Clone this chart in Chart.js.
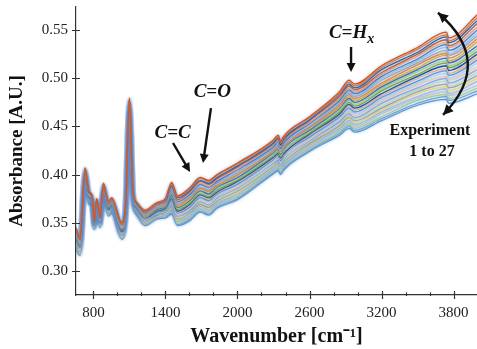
<!DOCTYPE html>
<html>
<head>
<meta charset="utf-8">
<script src="https://cdn.jsdelivr.net/npm/chart.js@4.4.1/dist/chart.umd.min.js"></script>
<style>
  html, body { margin: 0; padding: 0; background: #fff; }
  canvas { display: block; }
</style>
</head>
<body>
<canvas id="ftirChart" width="477" height="349"></canvas>
<script>
var wavenumbers = [656, 690, 731, 760, 790, 808, 828, 856, 883, 925, 953, 1036, 1070, 1100, 1128, 1161, 1230, 1330, 1400, 1452, 1500, 1600, 1690, 1760, 1830, 2000, 2300, 2340, 2360, 2380, 2600, 2850, 2930, 2975, 3200, 3500, 3740, 3760, 4000];

// absorbance of each experiment, experiment 1 on top at 4000 cm-1
var exp01 = [0.345,0.334,0.407,0.383,0.378,0.352,0.375,0.356,0.391,0.372,0.376,0.350,0.372,0.480,0.384,0.371,0.363,0.371,0.375,0.392,0.378,0.386,0.397,0.394,0.400,0.412,0.436,0.441,0.434,0.439,0.460,0.486,0.498,0.494,0.513,0.532,0.548,0.542,0.566];
var exp02 = [0.344,0.333,0.407,0.383,0.378,0.352,0.375,0.356,0.390,0.371,0.375,0.349,0.371,0.479,0.383,0.371,0.362,0.370,0.374,0.391,0.377,0.385,0.396,0.393,0.399,0.411,0.435,0.440,0.433,0.438,0.459,0.484,0.496,0.492,0.511,0.530,0.545,0.539,0.563];
var exp03 = [0.343,0.333,0.406,0.382,0.377,0.351,0.374,0.355,0.390,0.371,0.375,0.349,0.371,0.479,0.383,0.370,0.362,0.370,0.373,0.389,0.376,0.383,0.394,0.391,0.397,0.409,0.433,0.438,0.431,0.436,0.457,0.483,0.494,0.490,0.509,0.527,0.543,0.537,0.560];
var exp04 = [0.342,0.332,0.406,0.382,0.377,0.351,0.374,0.355,0.389,0.370,0.374,0.348,0.370,0.478,0.382,0.370,0.361,0.369,0.373,0.388,0.374,0.382,0.393,0.390,0.396,0.408,0.432,0.437,0.430,0.435,0.456,0.481,0.492,0.488,0.506,0.525,0.540,0.534,0.557];
var exp05 = [0.341,0.331,0.405,0.381,0.376,0.351,0.373,0.354,0.389,0.370,0.374,0.347,0.370,0.478,0.382,0.369,0.361,0.368,0.372,0.387,0.373,0.381,0.391,0.388,0.395,0.406,0.431,0.435,0.429,0.434,0.454,0.479,0.490,0.486,0.504,0.523,0.537,0.532,0.553];
var exp06 = [0.341,0.331,0.405,0.381,0.376,0.350,0.373,0.354,0.388,0.369,0.373,0.347,0.369,0.477,0.381,0.369,0.360,0.368,0.371,0.386,0.372,0.379,0.390,0.387,0.393,0.405,0.429,0.434,0.427,0.432,0.453,0.477,0.488,0.484,0.502,0.520,0.535,0.529,0.550];
var exp07 = [0.340,0.330,0.404,0.380,0.375,0.350,0.372,0.353,0.388,0.369,0.372,0.346,0.369,0.476,0.381,0.368,0.359,0.367,0.370,0.384,0.371,0.378,0.389,0.386,0.392,0.403,0.428,0.432,0.426,0.431,0.452,0.476,0.486,0.482,0.500,0.518,0.532,0.526,0.547];
var exp08 = [0.339,0.329,0.404,0.380,0.375,0.350,0.372,0.353,0.387,0.368,0.372,0.345,0.368,0.476,0.380,0.368,0.359,0.366,0.370,0.383,0.370,0.377,0.387,0.384,0.391,0.402,0.427,0.431,0.425,0.430,0.450,0.474,0.485,0.481,0.498,0.516,0.529,0.524,0.544];
var exp09 = [0.338,0.328,0.404,0.379,0.374,0.349,0.372,0.353,0.387,0.367,0.371,0.345,0.367,0.475,0.380,0.367,0.358,0.366,0.369,0.382,0.368,0.376,0.386,0.383,0.389,0.400,0.425,0.430,0.424,0.428,0.449,0.472,0.483,0.479,0.495,0.514,0.526,0.521,0.541];
var exp10 = [0.337,0.328,0.403,0.379,0.374,0.349,0.371,0.352,0.386,0.367,0.370,0.344,0.367,0.474,0.379,0.367,0.357,0.365,0.368,0.381,0.367,0.374,0.385,0.382,0.388,0.399,0.424,0.428,0.422,0.427,0.448,0.470,0.481,0.477,0.493,0.511,0.524,0.518,0.538];
var exp11 = [0.336,0.327,0.403,0.378,0.373,0.349,0.371,0.352,0.386,0.366,0.370,0.343,0.366,0.474,0.379,0.366,0.357,0.364,0.367,0.379,0.366,0.373,0.383,0.380,0.387,0.397,0.423,0.427,0.421,0.426,0.446,0.469,0.479,0.475,0.491,0.509,0.521,0.516,0.534];
var exp12 = [0.335,0.326,0.402,0.378,0.373,0.348,0.370,0.351,0.385,0.366,0.369,0.343,0.366,0.473,0.378,0.366,0.356,0.364,0.367,0.378,0.365,0.372,0.382,0.379,0.385,0.396,0.421,0.425,0.420,0.424,0.445,0.467,0.477,0.473,0.489,0.507,0.518,0.513,0.531];
var exp13 = [0.334,0.326,0.402,0.377,0.372,0.348,0.370,0.351,0.385,0.365,0.369,0.342,0.365,0.473,0.378,0.365,0.356,0.363,0.366,0.377,0.364,0.370,0.380,0.377,0.384,0.394,0.420,0.424,0.418,0.423,0.443,0.465,0.475,0.471,0.487,0.504,0.516,0.511,0.528];
var exp14 = [0.333,0.325,0.401,0.377,0.372,0.347,0.369,0.350,0.384,0.364,0.368,0.341,0.364,0.472,0.377,0.365,0.355,0.362,0.365,0.375,0.362,0.369,0.379,0.376,0.382,0.393,0.418,0.422,0.417,0.421,0.442,0.463,0.473,0.469,0.484,0.502,0.513,0.508,0.525];
var exp15 = [0.333,0.324,0.401,0.376,0.372,0.347,0.369,0.350,0.383,0.364,0.367,0.341,0.364,0.471,0.376,0.364,0.354,0.362,0.364,0.374,0.361,0.368,0.378,0.375,0.381,0.392,0.417,0.421,0.416,0.420,0.441,0.462,0.471,0.467,0.482,0.500,0.510,0.505,0.522];
var exp16 = [0.332,0.324,0.401,0.376,0.371,0.347,0.369,0.350,0.383,0.363,0.367,0.340,0.363,0.471,0.376,0.364,0.354,0.361,0.363,0.373,0.360,0.366,0.376,0.373,0.380,0.390,0.416,0.420,0.414,0.419,0.439,0.460,0.469,0.465,0.480,0.497,0.508,0.503,0.519];
var exp17 = [0.331,0.323,0.400,0.375,0.371,0.346,0.368,0.349,0.382,0.363,0.366,0.340,0.363,0.470,0.375,0.363,0.353,0.361,0.363,0.372,0.359,0.365,0.375,0.372,0.378,0.389,0.414,0.418,0.413,0.417,0.438,0.458,0.467,0.463,0.478,0.495,0.505,0.500,0.516];
var exp18 = [0.330,0.322,0.400,0.375,0.370,0.346,0.368,0.349,0.382,0.362,0.366,0.339,0.362,0.470,0.375,0.363,0.353,0.360,0.362,0.370,0.358,0.364,0.373,0.370,0.377,0.387,0.413,0.417,0.412,0.416,0.436,0.457,0.465,0.461,0.476,0.493,0.502,0.498,0.512];
var exp19 = [0.329,0.322,0.399,0.374,0.370,0.346,0.367,0.348,0.381,0.362,0.365,0.338,0.362,0.469,0.374,0.362,0.352,0.359,0.361,0.369,0.357,0.362,0.372,0.369,0.376,0.386,0.412,0.415,0.410,0.415,0.435,0.455,0.463,0.459,0.474,0.490,0.500,0.495,0.509];
var exp20 = [0.328,0.321,0.399,0.374,0.369,0.345,0.367,0.348,0.381,0.361,0.364,0.338,0.361,0.468,0.374,0.362,0.351,0.359,0.360,0.368,0.355,0.361,0.371,0.368,0.374,0.384,0.410,0.414,0.409,0.413,0.434,0.453,0.461,0.457,0.471,0.488,0.497,0.492,0.506];
var exp21 = [0.327,0.320,0.399,0.373,0.369,0.345,0.367,0.348,0.380,0.360,0.364,0.337,0.360,0.468,0.373,0.361,0.351,0.358,0.360,0.367,0.354,0.360,0.369,0.366,0.373,0.383,0.409,0.413,0.408,0.412,0.432,0.451,0.460,0.456,0.469,0.486,0.494,0.490,0.503];
var exp22 = [0.326,0.319,0.398,0.373,0.368,0.345,0.366,0.347,0.380,0.360,0.363,0.336,0.360,0.467,0.373,0.361,0.350,0.357,0.359,0.365,0.353,0.359,0.368,0.365,0.372,0.381,0.408,0.411,0.407,0.411,0.431,0.450,0.458,0.454,0.467,0.484,0.491,0.487,0.500];
var exp23 = [0.326,0.319,0.398,0.372,0.368,0.344,0.366,0.347,0.379,0.359,0.362,0.336,0.359,0.466,0.372,0.360,0.349,0.357,0.358,0.364,0.352,0.357,0.367,0.364,0.370,0.380,0.406,0.410,0.405,0.409,0.430,0.448,0.456,0.452,0.465,0.481,0.489,0.484,0.497];
var exp24 = [0.325,0.318,0.397,0.372,0.367,0.344,0.365,0.346,0.379,0.359,0.362,0.335,0.359,0.466,0.372,0.360,0.349,0.356,0.357,0.363,0.351,0.356,0.365,0.362,0.369,0.378,0.405,0.408,0.404,0.408,0.428,0.446,0.454,0.450,0.463,0.479,0.486,0.482,0.493];
var exp25 = [0.324,0.317,0.397,0.371,0.367,0.344,0.365,0.346,0.378,0.358,0.361,0.334,0.358,0.465,0.371,0.359,0.348,0.355,0.357,0.362,0.349,0.355,0.364,0.361,0.368,0.377,0.404,0.407,0.403,0.407,0.427,0.444,0.452,0.448,0.460,0.477,0.483,0.479,0.490];
var exp26 = [0.323,0.317,0.396,0.371,0.366,0.343,0.364,0.345,0.378,0.358,0.361,0.334,0.358,0.465,0.371,0.359,0.348,0.355,0.356,0.360,0.348,0.353,0.362,0.359,0.366,0.375,0.402,0.405,0.401,0.405,0.425,0.443,0.450,0.446,0.458,0.474,0.481,0.477,0.487];
var exp27 = [0.322,0.316,0.396,0.370,0.366,0.343,0.364,0.345,0.377,0.357,0.360,0.333,0.357,0.464,0.370,0.358,0.347,0.354,0.355,0.359,0.347,0.352,0.361,0.358,0.365,0.374,0.401,0.404,0.400,0.404,0.424,0.441,0.448,0.444,0.456,0.472,0.478,0.474,0.484];

var experiments = [exp01, exp02, exp03, exp04, exp05, exp06, exp07, exp08, exp09, exp10, exp11, exp12, exp13, exp14,
                   exp15, exp16, exp17, exp18, exp19, exp20, exp21, exp22, exp23, exp24, exp25, exp26, exp27];

var lineColors = ['#D95319', '#E07B39', '#2E5FA8', '#C8602A', '#F2A27A', '#4A7CC4', '#9DC3E6', '#A9A9A9', '#E68A4F',
                  '#EDB120', '#3E6DB5', '#A8D08D', '#77AC30', '#1F4E99', '#F4B183', '#5B9BD5', '#BDD7EE', '#F8CBAD',
                  '#8FAADC', '#C5E0B4', '#A5A5A5', '#FFD966', '#9DC3E6', '#C9C9C9', '#A9D18E', '#6FA8DC', '#5B9BD5'];

var xMajorTicks = [800, 1400, 2000, 2600, 3200, 3800];
var xMinorTicks = [1000, 1200, 1600, 1800, 2200, 2400, 2800, 3000, 3400, 3600];
var yTicks = [0.30, 0.35, 0.40, 0.45, 0.50, 0.55];

var serif = '"Liberation Serif", "Times New Roman", serif';

// annotation anchors, in axis units (wavenumber, absorbance)
var bandLabels = [
  { text: 'C=C', at: [1460, 0.4435], from: [1463, 0.4328], to: [1605, 0.4027] },
  { text: 'C=O', at: [1790, 0.4860], from: [1779, 0.4690], to: [1713, 0.4120] },
  { text: 'C=H', sub: 'x', at: [2950, 0.5470], from: [2946, 0.5325], to: [2946, 0.5065] }
];
var orderArrow = { start: [3670, 0.568], bend: [4145, 0.517], end: [3712, 0.462] };
var orderText = [['Experiment', 3603, 0.445], ['1 to 27', 3620, 0.4235]];

function arrowHead(ctx, x1, y1, x2, y2, len, half) {
  var a = Math.atan2(y2 - y1, x2 - x1);
  var bx = x2 - len * Math.cos(a), by = y2 - len * Math.sin(a);
  ctx.beginPath();
  ctx.moveTo(x2, y2);
  ctx.lineTo(bx + half * Math.sin(a), by - half * Math.cos(a));
  ctx.lineTo(bx - half * Math.sin(a), by + half * Math.cos(a));
  ctx.closePath();
  ctx.fill();
}

// soft bluish halo that the original lines have
var haloPlugin = {
  id: 'halo',
  beforeDatasetDraw: function(chart) {
    chart.ctx.save();
    chart.ctx.shadowColor = 'rgba(90,140,210,0.5)';
    chart.ctx.shadowBlur = 3;
  },
  afterDatasetDraw: function(chart) {
    chart.ctx.restore();
  }
};

// tick marks crossing the axes, plus minor ticks on x
var axisTicksPlugin = {
  id: 'axisTicks',
  afterDraw: function(chart) {
    var ctx = chart.ctx, xs = chart.scales.x, ys = chart.scales.y, area = chart.chartArea;
    ctx.save();
    ctx.strokeStyle = '#333';
    ctx.lineWidth = 1.2;
    ctx.beginPath();
    xMajorTicks.forEach(function(v) {
      var px = Math.round(xs.getPixelForValue(v)) + 0.5;
      ctx.moveTo(px, area.bottom - 4);
      ctx.lineTo(px, area.bottom + 4);
    });
    xMinorTicks.forEach(function(v) {
      var px = Math.round(xs.getPixelForValue(v)) + 0.5;
      ctx.moveTo(px, area.bottom - 2.5);
      ctx.lineTo(px, area.bottom + 1);
    });
    yTicks.forEach(function(v) {
      var py = Math.round(ys.getPixelForValue(v)) + 0.5;
      ctx.moveTo(area.left - 4, py);
      ctx.lineTo(area.left + 4, py);
    });
    ctx.stroke();
    ctx.restore();
  }
};

var annotationPlugin = {
  id: 'bandNotes',
  afterDraw: function(chart) {
    var ctx = chart.ctx, xs = chart.scales.x, ys = chart.scales.y;
    function px(p) { return [xs.getPixelForValue(p[0]), ys.getPixelForValue(p[1])]; }
    ctx.save();
    ctx.fillStyle = '#111';
    ctx.strokeStyle = '#111';
    ctx.lineWidth = 2.4;
    ctx.textBaseline = 'middle';

    bandLabels.forEach(function(b) {
      var c = px(b.at);
      ctx.font = 'italic bold 19px ' + serif;
      var w1 = ctx.measureText(b.text).width, w2 = 0;
      if (b.sub) {
        ctx.font = 'italic bold 14px ' + serif;
        w2 = ctx.measureText(b.sub).width;
      }
      var left = c[0] - (w1 + w2) / 2;
      ctx.textAlign = 'left';
      ctx.font = 'italic bold 19px ' + serif;
      ctx.fillText(b.text, left, c[1]);
      if (b.sub) {
        ctx.font = 'italic bold 14px ' + serif;
        ctx.fillText(b.sub, left + w1, c[1] + 6);
      }
      var f = px(b.from), t = px(b.to);
      var a = Math.atan2(t[1] - f[1], t[0] - f[0]);
      ctx.beginPath();
      ctx.moveTo(f[0], f[1]);
      ctx.lineTo(t[0] - 6 * Math.cos(a), t[1] - 6 * Math.sin(a));
      ctx.stroke();
      arrowHead(ctx, f[0], f[1], t[0], t[1], 9, 4.5);
    });

    var s = px(orderArrow.start), m = px(orderArrow.bend), e = px(orderArrow.end);
    ctx.beginPath();
    ctx.moveTo(s[0], s[1]);
    ctx.quadraticCurveTo(m[0], m[1], e[0], e[1]);
    ctx.stroke();
    arrowHead(ctx, m[0], m[1], s[0], s[1], 10, 5);
    arrowHead(ctx, m[0], m[1], e[0], e[1], 10, 5);

    ctx.font = 'bold 16px ' + serif;
    ctx.textAlign = 'center';
    orderText.forEach(function(t) {
      var c = px([t[1], t[2]]);
      ctx.fillText(t[0], c[0], c[1]);
    });
    ctx.restore();
  }
};

var datasets = experiments.map(function(values, i) {
  return {
    label: 'Experiment ' + (i + 1),
    data: values.map(function(v, j) { return { x: wavenumbers[j], y: v }; }),
    borderColor: lineColors[i],
    borderWidth: 1.3,
    pointRadius: 0,
    fill: false,
    cubicInterpolationMode: 'monotone'
  };
});

new Chart(document.getElementById('ftirChart'), {
  type: 'line',
  data: { datasets: datasets },
  plugins: [haloPlugin, axisTicksPlugin, annotationPlugin],
  options: {
    responsive: false,
    animation: false,
    layout: { padding: { top: 7, right: 0, bottom: 0, left: 0 } },
    plugins: { legend: { display: false }, tooltip: { enabled: false } },
    scales: {
      x: {
        type: 'linear',
        min: 655,
        max: 3995,
        afterBuildTicks: function(s) { s.ticks = xMajorTicks.map(function(v) { return { value: v }; }); },
        afterFit: function(s) { s.height = 54; s.paddingLeft = 0; s.paddingRight = 0; },
        grid: { display: false, drawTicks: false },
        border: { display: true, color: '#333', width: 1.2 },
        ticks: { color: '#222', font: { family: serif, size: 15 }, padding: 9, maxRotation: 0, autoSkip: false,
                 callback: function(v) { return String(v); } },
        title: { display: true, text: 'Wavenumber [cm⁻¹]', color: '#111',
                 font: { family: serif, size: 20, weight: 'bold' }, padding: { top: 0, bottom: 0 } }
      },
      y: {
        type: 'linear',
        min: 0.275,
        max: 0.574,
        afterBuildTicks: function(s) { s.ticks = yTicks.map(function(v) { return { value: v }; }); },
        afterFit: function(s) { s.width = 76; s.paddingTop = 0; s.paddingBottom = 0; },
        grid: { display: false, drawTicks: false },
        border: { display: true, color: '#333', width: 1.2 },
        ticks: { color: '#222', font: { family: serif, size: 15 }, padding: 8,
                 callback: function(v) { return Number(v).toFixed(2); } },
        title: { display: true, text: 'Absorbance [A.U.]', color: '#111',
                 font: { family: serif, size: 19, weight: 'bold' }, padding: { top: 6, bottom: 0 } }
      }
    }
  }
});
</script>
</body>
</html>
